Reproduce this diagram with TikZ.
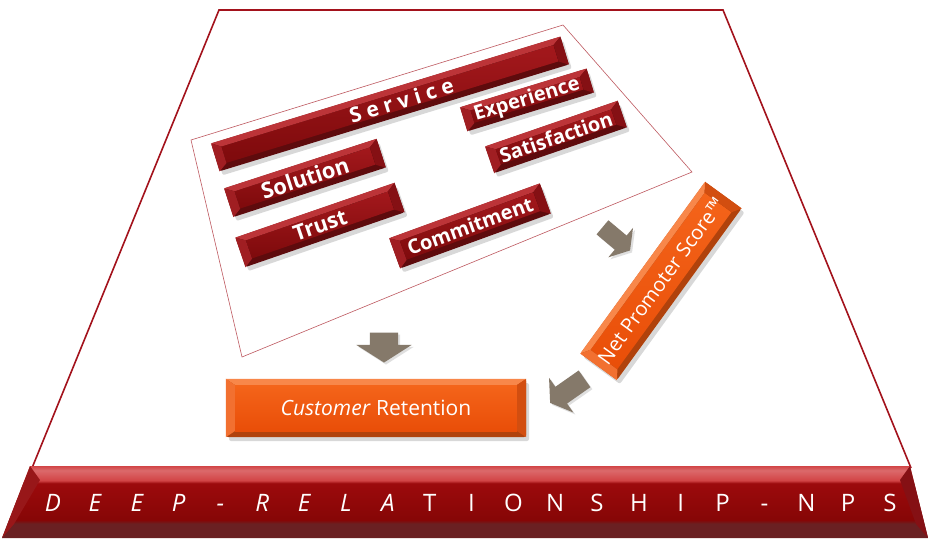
\documentclass[tikz,border=0pt]{standalone}
\usepackage{fontspec}
\setmainfont{Open Sans}
\usetikzlibrary{calc,shadows,shapes.arrows}

\definecolor{framered}{HTML}{A3121C}
\definecolor{redrim}{HTML}{5E0B0D}
\definecolor{redtop}{HTML}{A3181C}
\definecolor{redface}{HTML}{7E0A0C}
\definecolor{redhigh}{HTML}{BC3438}
\definecolor{redside}{HTML}{A01E22}
\definecolor{redend}{HTML}{851014}
\definecolor{orangerim}{HTML}{B0420C}
\definecolor{orangetop}{HTML}{F4641A}
\definecolor{orangeface}{HTML}{E94E08}
\definecolor{orangehigh}{HTML}{F8874A}
\definecolor{orangeside}{HTML}{F27030}
\definecolor{orangeend}{HTML}{D24E10}
\definecolor{deeprim}{HTML}{6A2022}
\definecolor{deepface}{HTML}{860606}
\definecolor{deeptop}{HTML}{9C0A0C}
\definecolor{deephigh}{HTML}{D24446}
\definecolor{arrowgrey}{HTML}{85796A}

% bands of the long bar at the foot: dark rim, face, light top edge
\pgfdeclareverticalshading{deepbar}{100bp}{color(0bp)=(deeprim); color(25bp)=(deeprim);
  color(35bp)=(deeprim); color(37.5bp)=(deepface); color(63bp)=(deeptop);
  color(65bp)=(deephigh); color(72bp)=(deephigh!80!white); color(75bp)=(deephigh);
  color(100bp)=(deephigh)}

\tikzset{
  barbody/.style={rectangle, rounded corners=2pt, inner sep=0pt,
    drop shadow={opacity=.3, shadow xshift=3pt, shadow yshift=-4pt}},
  barface/.style={rectangle, inner sep=0pt},
  bartext/.style={text=white, inner sep=0pt},
  blockarrow/.style={single arrow, fill=arrowgrey, inner xsep=0pt,
    single arrow tip angle=115,
    drop shadow={opacity=.25, shadow xshift=2pt, shadow yshift=-2pt}},
  deepletter/.style={text=white, anchor=base, inner sep=0pt,
    font=\fontsize{24}{28}\selectfont}
}

\begin{document}
\begin{tikzpicture}[x=1pt,y=-1pt]

\useasboundingbox[fill=white] (0,0) rectangle (928,538);

% board and the box round the red bars
\draw[framered, line width=1.6pt] (32,468) -- (219,10) -- (723,10) -- (911,468);
\draw[framered!70, line width=.6pt] (191,140) -- (563,25) -- (692,172) -- (242,357) -- cycle;

% bevelled bars: body, face, chamfers, text
\foreach \n/\bx/\by/\ang/\len/\thick/\col/\dx/\fs/\txt in {
  service/390/104/17/365/29/red/12/21/{\bfseries S e r v i c e},
  experience/527/100/17/132/25/red/0/20/{\bfseries Experience},
  satisfaction/556/137/19/140/28/red/0/20/{\bfseries Satisfaction},
  solution/305/178/18/160/30/red/0/22/{\bfseries Solution},
  trust/320/225/19/168/31/red/0/21.5/{\bfseries Trust},
  commitment/470/226/20/160/32/red/0/20/{\bfseries Commitment},
  nps/661/281/54/212/45/orange/0/20/{Net Promoter Score™},
  retention/376/408/0/300/58/orange/0/21/{\textit{Customer} Retention}}
{
  \node[barbody, fill=\col rim, minimum width=\len pt, minimum height=\thick pt, rotate=\ang] (\n) at (\bx,\by) {};
  \node[barface, top color=\col top, bottom color=\col face, minimum width=\len pt-18pt,
    minimum height=\thick pt-12pt, rotate=\ang] (\n-face) at (\n) {};
  \fill[fill=\col high] (\n.north west) -- (\n.north east) -- (\n-face.north east) -- (\n-face.north west) -- cycle;
  \fill[fill=\col side] (\n.north west) -- (\n-face.north west) -- (\n-face.south west) -- (\n.south west) -- cycle;
  \fill[fill=\col end] (\n.north east) -- (\n.south east) -- (\n-face.south east) -- (\n-face.north east) -- cycle;
  \node[bartext, font=\fontsize{\fs}{\fs}\selectfont, rotate=\ang] (\n-text) at ($(\n.center)!\dx pt!(\n.east)$) {\txt};
}

% grey block arrows
\node[blockarrow, inner ysep=14pt, single arrow head extend=13.5pt, minimum height=30pt, rotate=-90] (down-arrow) at (384,343) {};
\node[blockarrow, inner ysep=9pt, single arrow head extend=10pt, minimum height=36pt, rotate=-40] (nps-arrow) at (614,237) {};
\node[blockarrow, inner ysep=10pt, single arrow head extend=11pt, minimum height=42pt, rotate=-145] (back-arrow) at (570,389) {};

% long bar at the foot
\shade[shading=deepbar] (30,466) -- (910,466) -- (928,538) -- (2,538) -- cycle;
\fill[redside!70!deepface] (30,466) -- (40,480) -- (14,524) -- (2,538) -- cycle;
\fill[redend] (910,466) -- (928,538) -- (916,524) -- (900,480) -- cycle;
\foreach \ch [count=\i] in {D,E,E,P,-,R,E,L,A,T,I,O,N,S,H,I,P,-,N,P,S}
  \node[deepletter] (deep-\i) at ({53+41.85*(\i-1)},511) {\ifnum\i<10 \itshape\fi\ch};

\end{tikzpicture}
\end{document}
